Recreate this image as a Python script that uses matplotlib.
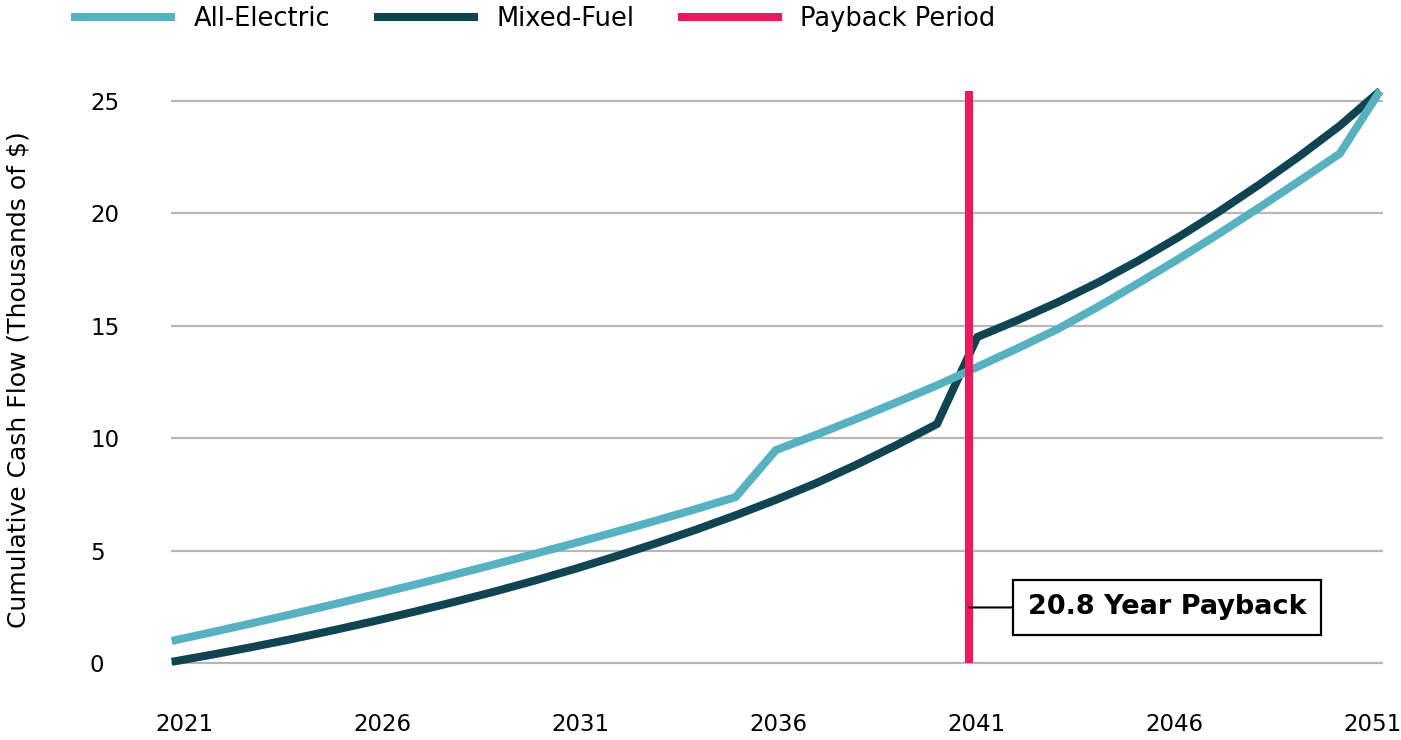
import matplotlib
matplotlib.use("Agg")
import matplotlib.pyplot as plt
from matplotlib.lines import Line2D
from matplotlib.transforms import ScaledTranslation

# ---- data ----
years = list(range(2021, 2052))
all_electric = [0.98, 1.37, 1.77, 2.18, 2.60, 3.03, 3.47, 3.92, 4.38, 4.85,
                5.33, 5.82, 6.32, 6.84, 7.38, 9.47, 10.15, 10.86, 11.60, 12.35,
                13.17, 14.00, 14.86, 15.85, 16.90, 17.98, 19.10, 20.26, 21.45, 22.66,
                25.45]
mixed_fuel = [0.05, 0.37, 0.71, 1.07, 1.45, 1.85, 2.27, 2.71, 3.17, 3.66,
              4.18, 4.73, 5.31, 5.92, 6.57, 7.26, 8.00, 8.82, 9.70, 10.63,
              14.50, 15.25, 16.05, 16.93, 17.90, 18.95, 20.08, 21.28, 22.55, 23.90,
              25.45]
payback_years = 20.8
x_ticks = [2021, 2026, 2031, 2036, 2041, 2046, 2051]
y_ticks = [0, 5, 10, 15, 20, 25]
series_names = ["All-Electric", "Mixed-Fuel", "Payback Period"]
y_label = "Cumulative Cash Flow (Thousands of $)"

# ---- style ----
C_ELEC = "#56b1c0"
C_MIXED = "#0f4450"
C_PAY = "#ee1a5e"
C_GRID = "#b7b7bb"
LW = 5.8

W, H = 1401, 740
fig = plt.figure(figsize=(W / 100, H / 100), dpi=100)
ax = fig.add_axes([170.5 / W, 0.0889, 1212.4 / W, 0.7928])

ax.plot(years, mixed_fuel, color=C_MIXED, lw=LW, zorder=3, clip_on=False,
        solid_joinstyle="miter", solid_capstyle="butt")
ax.plot(years, all_electric, color=C_ELEC, lw=LW, zorder=4, clip_on=False,
        solid_joinstyle="miter", solid_capstyle="butt")

payback_x = years[0] - 1 + payback_years
ax.vlines(payback_x, 0, max(max(all_electric), max(mixed_fuel)), color=C_PAY,
          lw=LW, zorder=5)

ax.annotate(f"{payback_years} Year Payback", xy=(payback_x, 2.47),
            xytext=(2045.71, 2.47), ha="center", va="center",
            fontsize=19.5, fontweight="bold", color="black",
            bbox=dict(boxstyle="square,pad=0.55", fc="white", ec="black", lw=1.6),
            arrowprops=dict(arrowstyle="-", color="black", lw=1.5,
                            shrinkA=0, shrinkB=0),
            zorder=6)

ax.set_xlim(2020.97, 2051.07)
ax.set_ylim(-0.5, 25.6)
ax.set_xticks(x_ticks)
ax.set_xticklabels([str(v) for v in x_ticks])
ax.set_yticks(y_ticks)
ax.set_yticklabels([str(v) for v in y_ticks])
ax.tick_params(axis="x", length=0, pad=28, labelsize=16.5)
ax.tick_params(axis="y", length=0, pad=58, labelsize=16.5)
for t in ax.get_yticklabels():
    t.set_horizontalalignment("left")
# category-style label spacing as in the reference (slightly inset at the ends)
for i, t in enumerate(ax.get_xticklabels()):
    dx = 12.3 - 3.3 * i
    t.set_transform(t.get_transform() + ScaledTranslation(dx / 100, 0, fig.dpi_scale_trans))

ax.grid(axis="y", color=C_GRID, lw=1.6)
ax.grid(axis="x", visible=False)
ax.set_axisbelow(True)
for s in ax.spines.values():
    s.set_visible(False)

fig.text(19 / W, 0.4865, y_label, rotation=90, ha="center", va="center",
         fontsize=18)

handles = [Line2D([], [], color=C_ELEC, lw=LW),
           Line2D([], [], color=C_MIXED, lw=LW),
           Line2D([], [], color=C_PAY, lw=LW)]
fig.legend(handles, series_names, loc="center left",
           bbox_to_anchor=(75 / W, 1 - 19 / H), bbox_transform=fig.transFigure,
           ncol=3, frameon=False, fontsize=18.5, handlelength=3.75,
           handletextpad=0.86, columnspacing=1.85, borderpad=0,
           borderaxespad=0)

fig.savefig("out.png", dpi=100)
